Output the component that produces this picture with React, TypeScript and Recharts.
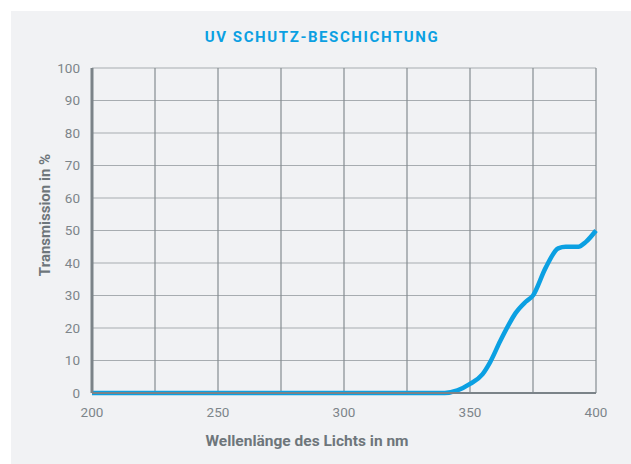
import { CartesianGrid, Line, LineChart, XAxis, YAxis } from 'recharts';

const wavelengths = [200, 250, 300, 330, 340, 345, 350, 355, 358, 362, 365, 368, 372, 375, 380, 385, 388, 393, 396, 400];
const transmission = [0, 0, 0, 0, 0, 0.8, 2.8, 5.8, 9.5, 16, 20.5, 24.5, 28, 30, 38.5, 44.5, 45, 45, 46.5, 50];
const xTicks = [200, 225, 250, 275, 300, 325, 350, 375, 400];
const yTicks = [0, 10, 20, 30, 40, 50, 60, 70, 80, 90, 100];

const data = wavelengths.map((nm, i) => ({ nm, value: transmission[i] }));

const grey = '#7b8388';
const blue = '#0ba0e2';
const font = 'Roboto, "Open Sans", sans-serif';

export default function App() {
  return (
    <div style={{ position: 'fixed', left: 0, top: 0, width: 631, height: 464, background: '#fff', fontFamily: font }}>
      <div style={{ position: 'absolute', left: 11, top: 11, width: 620, height: 453, background: '#f1f2f4' }} />
      <div
        style={{
          position: 'absolute', left: 0, width: 644, top: 28, textAlign: 'center',
          color: blue, fontWeight: 700, fontSize: 15, letterSpacing: 1.6
        }}
      >
        UV SCHUTZ-BESCHICHTUNG
      </div>
      <div
        style={{
          position: 'absolute', left: 0, width: 614, top: 432, textAlign: 'center',
          color: '#6e767b', fontWeight: 700, fontSize: 15.5
        }}
      >
        Wellenlänge des Lichts in nm
      </div>
      <div
        style={{
          position: 'absolute', left: 45, top: 215, transform: 'translate(-50%, -50%) rotate(-90deg)',
          whiteSpace: 'nowrap', color: '#6e767b', fontWeight: 700, fontSize: 15
        }}
      >
        Transmission in %
      </div>
      <div style={{ position: 'absolute', left: 0, top: 0 }}>
        <LineChart width={631} height={464} data={data} margin={{ top: 68, right: 35, left: 32, bottom: 41 }}>
          <CartesianGrid horizontal vertical={false} stroke="#a7acb0" strokeWidth={1.2} />
          <CartesianGrid horizontal={false} vertical stroke="#858c90" strokeWidth={1.2} />
          <XAxis
            dataKey="nm"
            type="number"
            domain={[200, 400]}
            ticks={xTicks}
            tickFormatter={(v: number) => (v % 50 === 0 ? String(v) : '')}
            tickLine={false}
            axisLine={{ stroke: grey, strokeWidth: 2 }}
            tick={{ fill: '#7d858a', fontSize: 13.5, fontFamily: font }}
            height={30}
            tickMargin={8}
          />
          <YAxis
            type="number"
            domain={[0, 100]}
            ticks={yTicks}
            tickLine={false}
            axisLine={{ stroke: grey, strokeWidth: 3 }}
            tick={{ fill: '#7d858a', fontSize: 13.5, fontFamily: font }}
            width={60}
            tickMargin={6}
            interval={0}
          />
          <Line
            type="monotone"
            dataKey="value"
            stroke={blue}
            strokeWidth={4.5}
            dot={false}
            activeDot={false}
            isAnimationActive={false}
          />
        </LineChart>
      </div>
    </div>
  );
}
